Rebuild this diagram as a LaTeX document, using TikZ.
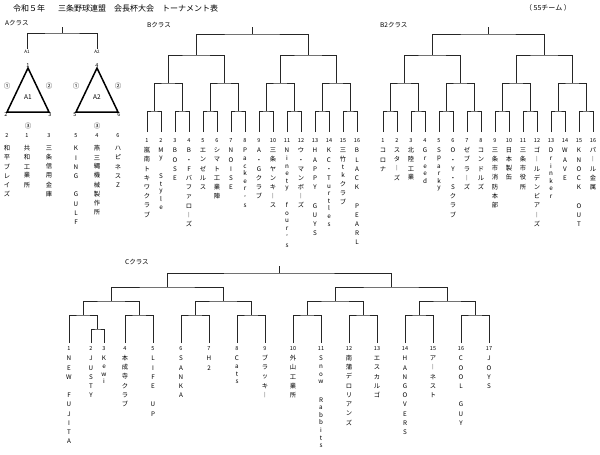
\documentclass[tikz,border=0pt]{standalone}
\usepackage{fontspec}
\setmainfont{Noto Sans CJK JP}

% vertical team names, one character per slot (small letters get a shorter slot)
\newlength\tatestep
\setlength\tatestep{9.2pt}
\def\tateglyph#1{\ifx#1ー︱\else#1\fi}
\def\tateslot#1{%
  \dimen0=\tatestep
  \ifcat a\noexpand#1\ifnum\uccode`#1>0 \ifnum\uccode`#1=`#1 \else\dimen0=7.6pt\fi\fi\fi
  \hbox to 8pt{\hss\vbox to\dimen0{\vss\hbox{\tateglyph{#1}}\vskip1.5pt}\hss}}
\def\tateloop#1{\ifx#1\relax\else\tateslot{#1}\expandafter\tateloop\fi}
\def\tate#1{\vbox{\offinterlineskip\expandafter\tateloop#1\relax}}

\tikzset{
  bracketline/.style={draw=black!85, line width=0.9pt},
  tri/.style={draw=black, line width=1.5pt, line join=miter},
  num/.style={font=\fontsize{5.5}{6}\selectfont, inner xsep=0pt, inner ysep=6pt, anchor=north},
  team/.style={font=\fontsize{6.3}{7}\selectfont, inner sep=0pt, anchor=north},
  klass/.style={font=\fontsize{6.5}{7}\selectfont, inner sep=0pt, anchor=west},
  small/.style={font=\fontsize{5.5}{6}\selectfont, inner sep=0.5pt},
  circled/.style={font=\fontsize{6.5}{7}\selectfont, inner sep=0pt},
}

\begin{document}
\begin{tikzpicture}[x=1pt, y=-1pt]
  \useasboundingbox (0,0) rectangle (600,455);
  \node[anchor=west, inner sep=0pt, font=\fontsize{8}{9}\selectfont] (title) at (13,8)
    {令和５年\hspace{13pt}三条野球連盟\hspace{8pt}会長杯大会\hspace{8pt}トーナメント表};
  \node[inner sep=0pt, font=\fontsize{7}{8}\selectfont] (total) at (548,8) {（ 55チーム ）};

  % A class
  \node[klass] (alabel) at (5,23) {Aクラス};
  \coordinate (atop) at (62,33);
  \coordinate (atick) at (62,27);
  \node[inner sep=1pt, font=\fontsize{4.5}{5}\selectfont] (ga1) at (27,52) {A1};
  \node[inner sep=1pt, font=\fontsize{4.5}{5}\selectfont] (ga2) at (97,52) {A2};
  \draw[bracketline] (ga1) |- (atop) -| (ga2);
  \draw[bracketline] (atop) -- (atick);
  \foreach \tr/\x/\va/\vb/\vc in {1/28/1/2/3, 2/97/4/5/6} {
    \coordinate (t\tr a) at (\x,68);
    \coordinate (t\tr b) at ({\x-21},112);
    \coordinate (t\tr c) at ({\x+21},112);
    \draw[tri] (t\tr a) -- (t\tr b) -- (t\tr c) -- cycle;
    \node[small, above] (v\va) at (t\tr a) {\va};
    \node[small, below, xshift=-1pt] (v\vb) at (t\tr b) {\vb};
    \node[small, below, xshift=1pt] (v\vc) at (t\tr c) {\vc};
    \node[circled] (o\tr a) at ({\x-21},86) {①};
    \node[circled] (o\tr b) at ({\x+21},86) {②};
    \node[circled] (o\tr c) at (\x,126) {③};
    \node[font=\fontsize{6.5}{7}\selectfont, inner sep=0pt] (in\tr) at (\x,97) {A\tr};
  }
  \foreach \x/\n/\tn in {7/2/和平ブレイズ, 27/1/共和工業所, 49/3/三条信用金庫,
      76/5/KING~GULF, 97/4/燕三縄機械製作所, 118/6/ハピネスZ} {
    \node[num, inner ysep=0pt, anchor=center] (a\n) at (\x,136) {\n};
    \node[team] (an\n) at (\x,143) {\tate{\tn}};
  }

  % B and B2 classes
  \node[klass] (blabel) at (147,25) {Bクラス};
  \node[klass] (bblabel) at (380,25) {B2クラス};
  \foreach \g/\xo in {b/147, bb/383} {
    \foreach \i in {1,...,16}
      \node[num] (\g\i) at ({\xo+14*(\i-1)},132) {\i};
    \foreach \k [evaluate=\k as \lf using int(2*\k-1), evaluate=\k as \rt using int(2*\k)] in {1,...,8} {
      \coordinate (\g p\k) at ({\xo+28*(\k-1)+7},111);
      \draw[bracketline] (\g\lf) |- (\g p\k) -| (\g\rt);
    }
    \foreach \k [evaluate=\k as \lf using int(2*\k-1), evaluate=\k as \rt using int(2*\k)] in {1,...,4} {
      \coordinate (\g q\k) at ({\xo+56*(\k-1)+21},83);
      \draw[bracketline] (\g p\lf) |- (\g q\k) -| (\g p\rt);
    }
    \foreach \k [evaluate=\k as \lf using int(2*\k-1), evaluate=\k as \rt using int(2*\k)] in {1,2} {
      \coordinate (\g r\k) at ({\xo+112*(\k-1)+49},55);
      \draw[bracketline] (\g q\lf) |- (\g r\k) -| (\g q\rt);
    }
    \coordinate (\g s) at ({\xo+105},34);
    \coordinate (\g t) at ({\xo+105},27);
    \draw[bracketline] (\g r1) |- (\g s) -| (\g r2);
    \draw[bracketline] (\g s) -- (\g t);
  }
  \foreach \i/\tn in {1/嵐南トキワクラブ, 2/My~Style, 3/BOSE, 4/B・Fバファローズ, 5/エンゼルス,
      6/シマト工業陣, 7/NOISE, 8/Packer's, 9/A・Gクラブ, 10/三条ヤンキース, 11/Ninety~four's,
      12/ウ・マンボーズ, 13/HAPPY~GUYS, 14/KC・Turtles, 15/三竹tkクラブ, 16/BLACK~PEARL}
    \node[team] (bn\i) at (b\i |- 0,145) {\tate{\tn}};
  \foreach \i/\tn in {1/コロナ, 2/スターズ, 3/北陸工業, 4/Greed, 5/Sparky, 6/O・Y・Sクラブ,
      7/ゼブラーズ, 8/コンドルズ, 9/三条市消防本部, 10/日本製缶, 11/三条市役所,
      12/ゴールデンビアーズ, 13/Drinker, 14/WAVE, 15/KNOCK~OUT, 16/パール金属}
    \node[team] (bbn\i) at (bb\i |- 0,145) {\tate{\tn}};

  % C class
  \node[klass] (clabel) at (125,262) {Cクラス};
  \foreach \i/\x in {1/69, 2/91, 3/104, 4/125, 5/153, 6/181, 7/209, 8/237, 9/265,
      10/293, 11/321, 12/349, 13/377, 14/405, 15/433, 16/461, 17/489}
    \node[num, inner ysep=3.5pt] (c\i) at (\x,343) {\i};
  \coordinate (cx) at (97.5,329);
  \draw[bracketline] (c2) |- (cx) -| (c3);
  \coordinate (cp1) at (83,315);
  \draw[bracketline] (c1) |- (cp1) -| (cx);
  \foreach \k [evaluate=\k as \lf using int(2*\k), evaluate=\k as \rt using int(2*\k+1)] in {2,...,8} {
    \coordinate (cp\k) at ({83+56*(\k-1)},315);
    \draw[bracketline] (c\lf) |- (cp\k) -| (c\rt);
  }
  \foreach \k [evaluate=\k as \lf using int(2*\k-1), evaluate=\k as \rt using int(2*\k)] in {1,...,4} {
    \coordinate (cq\k) at ({111+112*(\k-1)},301);
    \draw[bracketline] (cp\lf) |- (cq\k) -| (cp\rt);
  }
  \foreach \k [evaluate=\k as \lf using int(2*\k-1), evaluate=\k as \rt using int(2*\k)] in {1,2} {
    \coordinate (cr\k) at ({167+224*(\k-1)},287);
    \draw[bracketline] (cq\lf) |- (cr\k) -| (cq\rt);
  }
  \coordinate (cs) at (279,273);
  \coordinate (ct) at (279,266);
  \draw[bracketline] (cr1) |- (cs) -| (cr2);
  \draw[bracketline] (cs) -- (ct);
  \foreach \i/\tn in {1/NEW~FUJITA, 2/JUSTY, 3/Kewi, 4/本成寺クラブ, 5/LIFE~UP, 6/SANKA, 7/H2,
      8/Cats, 9/ブラッキー, 10/外山工業所, 11/Snow~Rabbits, 12/南蒲デロリアンズ, 13/エスカルゴ,
      14/HANGOVERS, 15/アーネスト, 16/COOL~GUY, 17/JOYS}
    \node[team] (cn\i) at (c\i |- 0,353) {\tate{\tn}};
\end{tikzpicture}
\end{document}
